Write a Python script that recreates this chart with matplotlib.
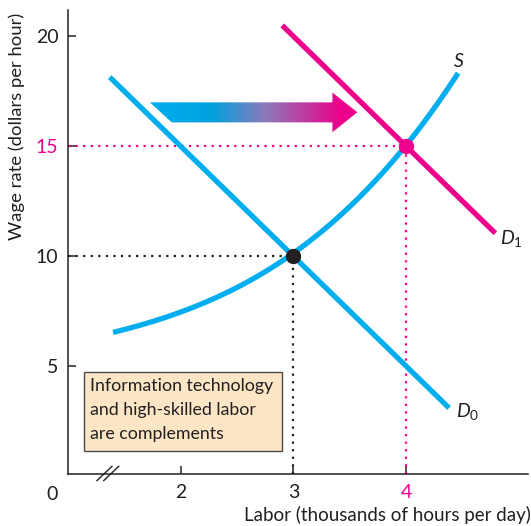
import numpy as np
import matplotlib
matplotlib.use("Agg")
import matplotlib.pyplot as plt
from matplotlib.patches import Polygon, Rectangle
from matplotlib.colors import LinearSegmentedColormap

plt.rcParams['font.family'] = ['Lato', 'DejaVu Sans']
plt.rcParams['mathtext.fontset'] = 'custom'
plt.rcParams['mathtext.rm'] = 'Lato'
plt.rcParams['mathtext.it'] = 'Lato:italic'

BLUE = '#00AEEF'
MAGENTA = '#EC008C'
DARK = '#231F20'

# ---- data ----
D0_L = [1.37, 4.38]
D0_W = [18.15, 3.1]
D1_L = [2.90, 4.79]
D1_W = [20.5, 11.05]
S_L = [1.40, 1.64, 1.88, 2.17, 2.46, 2.76, 3.0, 3.5, 4.0, 4.46]
S_W = [6.65, 6.77, 7.09, 7.86, 8.59, 9.45, 10.0, 12.3, 15.0, 18.36]
eq0 = (3, 10)
eq1 = (4, 15)
x_ticks = [2, 3, 4]
x_labels = ['2', '3', '4']
y_ticks = [5, 10, 15, 20]
y_labels = ['5', '10', '15', '20']
arrow_x = [1.726, 3.345, 3.345, 3.566, 3.345, 3.345, 1.92]
arrow_y = [17.0, 17.0, 17.45, 16.55, 15.64, 16.09, 16.09]

fig = plt.figure(figsize=(5.31, 5.26), dpi=100)
ax = fig.add_axes([68/531, 1-474/526, 460/531, 464/526])
ax.set_xlim(1.0, 5.08)
ax.set_ylim(0.1, 21.2)

for s in ['top', 'right']:
    ax.spines[s].set_visible(False)
for s in ['left', 'bottom']:
    ax.spines[s].set_color(DARK)
    ax.spines[s].set_linewidth(1.1)

ax.set_xticks(x_ticks)
ax.set_xticklabels(x_labels)
ax.set_yticks(y_ticks)
ax.set_yticklabels(y_labels)
ax.tick_params(direction='in', length=6, width=1.1, color=DARK, labelsize=14, labelcolor=DARK, pad=7)
ax.get_xticklabels()[2].set_color(MAGENTA)
ax.get_yticklabels()[2].set_color(MAGENTA)

# zero label and axis break
ax.text(0.86, -0.45, '0', ha='center', va='top', fontsize=14, color=DARK, clip_on=False)
for dx in [0.0, 0.06]:
    ax.plot([1.257 + dx, 1.39 + dx], [-0.2, 0.45], color=DARK, lw=1.0, clip_on=False)

# dotted guide lines
dot = (0, (1, 2.4))
ax.plot([1.0, eq0[0]], [eq0[1], eq0[1]], color=DARK, lw=1.6, ls=dot)
ax.plot([eq0[0], eq0[0]], [0.1, eq0[1]], color=DARK, lw=1.6, ls=dot)
ax.plot([1.0, eq1[0]], [eq1[1], eq1[1]], color=MAGENTA, lw=1.6, ls=dot)
ax.plot([eq1[0], eq1[0]], [0.1, eq1[1]], color=MAGENTA, lw=1.6, ls=dot)

# curves
ax.plot(D0_L, D0_W, color=BLUE, lw=3.8, solid_capstyle='butt')
coef = np.polyfit(S_L, S_W, 3)
xs = np.linspace(S_L[0], S_L[-1], 200)
ax.plot(xs, np.polyval(coef, xs), color=BLUE, lw=3.8, solid_capstyle='butt')
ax.plot(D1_L, D1_W, color=MAGENTA, lw=3.8, solid_capstyle='butt')

ax.plot(*eq0, 'o', color=DARK, ms=10, zorder=5)
ax.plot(*eq1, 'o', color=MAGENTA, ms=10, zorder=5)

# curve labels
ax.text(4.47, 18.45, '$S$', fontsize=14, color=DARK, ha='center', va='bottom')
ax.text(4.83, 10.8, '$D_1$', fontsize=14, color=DARK, ha='left', va='center')
ax.text(4.44, 2.95, '$D_0$', fontsize=14, color=DARK, ha='left', va='center')

# gradient arrow
poly = Polygon(np.column_stack([arrow_x, arrow_y]), closed=True, facecolor='none', edgecolor='none')
ax.add_patch(poly)
cmap = LinearSegmentedColormap.from_list('bm', [(0, '#00AEEF'), (0.3, '#00A0DC'), (0.55, '#8A7CBA'),
                                               (0.92, '#EC008C'), (1, '#EC008C')])
grad = np.linspace(0, 1, 256).reshape(1, -1)
im = ax.imshow(grad, cmap=cmap, extent=[min(arrow_x), max(arrow_x), min(arrow_y), max(arrow_y)],
               aspect='auto', interpolation='bilinear', zorder=3)
im.set_clip_path(poly)
ax.set_xlim(1.0, 5.08)
ax.set_ylim(0.1, 21.2)

# text box
ax.add_patch(Rectangle((1.142, 1.14), 1.752, 3.59, facecolor='#FDE6C6', edgecolor='#4A4A4A', lw=1.0, zorder=4))
ax.text(1.195, 4.45, 'Information technology\nand high-skilled labor\nare complements', fontsize=12.8,
        color=DARK, ha='left', va='top', linespacing=1.62, zorder=5)

# axis labels
ax.text(-0.112, 0.75, 'Wage rate (dollars per hour)', transform=ax.transAxes, rotation=90,
        ha='center', va='center', fontsize=13.3, color=DARK)
ax.text(0.695, -0.088, 'Labor (thousands of hours per day)', transform=ax.transAxes,
        ha='center', va='center', fontsize=13.5, color=DARK)

fig.savefig('out.png', dpi=100)
